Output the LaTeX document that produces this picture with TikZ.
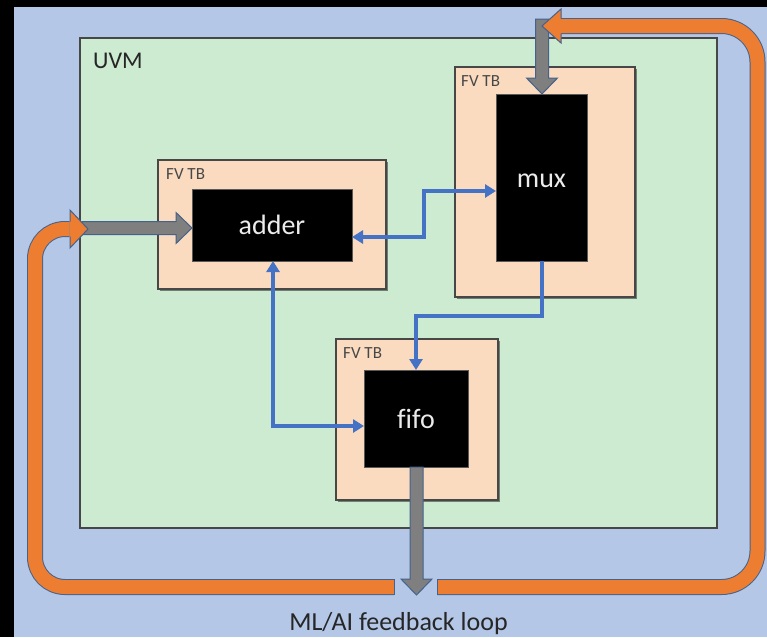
\documentclass[tikz,border=0pt]{standalone}
\usepackage{fontspec}
\setmainfont{Carlito}[Ligatures=CommonOff]
\usetikzlibrary{arrows.meta,calc,shadows}
\definecolor{bgblue}{RGB}{180,199,231}
\definecolor{uvmgreen}{RGB}{205,235,209}
\definecolor{peach}{RGB}{250,219,192}
\definecolor{conblue}{RGB}{68,114,196}
\definecolor{loopor}{RGB}{237,125,49}
\definecolor{edgeblue}{RGB}{68,98,140}
\definecolor{blockgray}{RGB}{127,127,127}
\definecolor{txtdark}{RGB}{38,38,38}
\newcommand{\grayblock}[2]{% #1 tip, #2 rotation
  \draw[blockarrow, shift={(#1)}, rotate=#2] (0,0) -- (-15.5,-16) -- (-6.5,-16) -- (-6.5,-\blocklen) -- (6.5,-\blocklen) -- (6.5,-16) -- (15.5,-16) -- cycle;}
\newcommand{\blocklen}{75}
\begin{document}
\begin{tikzpicture}[x=1pt,y=-1pt,
  region/.style={draw=black!72, line width=1.5pt, inner sep=0pt, outer sep=0pt, anchor=north west},
  tbbox/.style={region, fill=peach, drop shadow={shadow xshift=1.5pt, shadow yshift=-1.5pt, opacity=0.45, fill=black}},
  dut/.style={fill=black, draw=black!65, line width=0.8pt, text=white!92!black,
    font=\fontsize{28}{32}\selectfont, text height=19pt, text depth=0pt,
    inner sep=0pt, outer sep=0pt, anchor=north west},
  tblabel/.style={font=\fontsize{17}{19}\selectfont, text=black!72, anchor=base west, inner sep=0pt},
  link/.style={draw=conblue, line width=3.3pt, -{Triangle[length=11pt,width=13pt]}},
  dlink/.style={draw=conblue, line width=3.3pt, {Triangle[length=11pt,width=13pt]}-{Triangle[length=11pt,width=13pt]}},
  blockarrow/.style={fill=blockgray, draw=edgeblue, line width=1pt, line join=miter},
  loopband/.style={draw=edgeblue, line width=1pt, double=loopor, double distance=14pt},
  loophead/.style={fill=loopor},
  loopedge/.style={draw=edgeblue, line width=1pt, line join=miter}
]
\useasboundingbox (0,0) rectangle (767,637);
\fill[black] (0,0) rectangle (767,637);
\fill[bgblue] (14,7) rectangle (767,637);

% UVM region
\node[region, fill=uvmgreen, minimum width=637pt, minimum height=490pt] (uvm) at (80,38) {};
\node[font=\fontsize{24}{28}\selectfont, text=txtdark, anchor=base west, inner sep=0pt] (uvmlabel) at (93,68) {UVM};

% FV TB boxes
\node[tbbox, minimum width=180pt, minimum height=230pt] (muxtb) at (455,67) {};
\node[tbbox, minimum width=228pt, minimum height=129pt] (addtb) at (158,160) {};
\node[tbbox, minimum width=162pt, minimum height=161pt] (fifotb) at (336,339) {};
\node[tblabel] (muxtbl) at (461,86) {FV TB};
\node[tblabel] (addtbl) at (166,179) {FV TB};
\node[tblabel] (fifotbl) at (343,358) {FV TB};

% DUT blocks
\node[dut, minimum width=91pt, minimum height=167pt] (mux) at (496,94) {mux};
\node[dut, minimum width=160pt, minimum height=72pt] (adder) at (192,189) {adder};
\node[dut, minimum width=104pt, minimum height=97pt] (fifo) at (364,370) {fifo};

% blue connectors
\draw[dlink] ([yshift=-12pt]adder.east) -- ++(72,0) |- ([yshift=-13.5pt]mux.west);
\draw[link] ([xshift=0.5pt]mux.south) -- ++(0,55) -| (fifo.north);
\draw[dlink] ([xshift=1pt]adder.south) |- ([yshift=-7.5pt]fifo.west);

% gray block arrows
\coordinate (topin) at ($(mux.north)+(0.5,0)$);
\coordinate (leftin) at ([yshift=-3pt]adder.west);
\coordinate (outtip) at ($(fifo.south)+(0.5,128)$);
\renewcommand{\blocklen}{75}\grayblock{topin}{0}
\renewcommand{\blocklen}{110}\grayblock{leftin}{90}
\renewcommand{\blocklen}{128}\grayblock{outtip}{0}

% orange feedback loop
\coordinate (loopR) at (437,587);
\coordinate (loopL) at (394,587);
\draw[loopband, rounded corners=36pt] (loopR) -- (757.5,587) -- (757.5,26) -- (560.5,26);
\fill[loophead] (561,9) -- (542,26) -- (561,43) -- cycle;
\draw[loopedge] (561,18.5) -- (561,9) -- (542,26) -- (561,43) -- (561,33.5);
\draw[loopedge] (437,579) -- (437,595);
\draw[loopband, rounded corners=30pt] (loopL) -- (35,587) -- (35,229) -- (69.5,229);
\fill[loophead] (70,210) -- (88,229) -- (70,248) -- cycle;
\draw[loopedge] (70,221.5) -- (70,210) -- (88,229) -- (70,248) -- (70,236.5);
\draw[loopedge] (394,579) -- (394,595);

\node[font=\fontsize{26}{30}\selectfont, text=txtdark, anchor=base, inner sep=0pt] (caption) at (398.5,630) {ML/AI feedback loop};
\end{tikzpicture}
\end{document}
